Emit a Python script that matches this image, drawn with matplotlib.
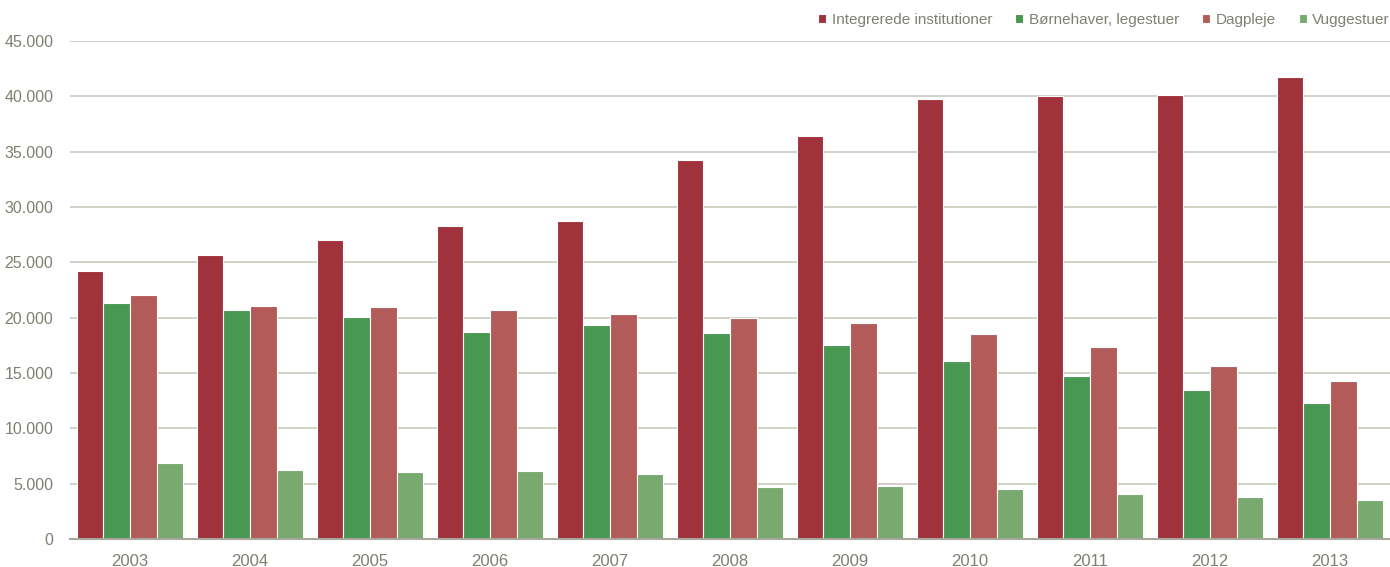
import matplotlib
matplotlib.use("Agg")
import matplotlib.pyplot as plt
import numpy as np
from matplotlib.ticker import FuncFormatter

plt.rcParams["font.family"] = ["Liberation Sans Narrow", "Liberation Sans", "DejaVu Sans"]

# ---data---
years = ["2003", "2004", "2005", "2006", "2007", "2008", "2009", "2010", "2011", "2012", "2013"]
integrerede = [24200, 25650, 27000, 28300, 28750, 34250, 36450, 39750, 40000, 40100, 41750]
boernehaver = [21300, 20700, 20050, 18700, 19350, 18600, 17500, 16050, 14700, 13450, 12300]
dagpleje = [22050, 21050, 20950, 20700, 20350, 19950, 19550, 18500, 17350, 15600, 14250]
vuggestuer = [6850, 6200, 6050, 6150, 5850, 4700, 4800, 4500, 4050, 3800, 3500]

series = [
    ("Integrerede institutioner", integrerede, "#A0323B"),
    ("Børnehaver, legestuer", boernehaver, "#489752"),
    ("Dagpleje", dagpleje, "#B35B59"),
    ("Vuggestuer", vuggestuer, "#78A96F"),
]

TXT = "#7F7F72"
GRID = "#C9C9BF"

fig = plt.figure(figsize=(13.9, 5.67), dpi=100)
ax = fig.add_axes([0.0504, 0.0494, 0.9496, 0.8783])

x = np.arange(len(years))
w = 0.222
for i, (name, vals, col) in enumerate(series):
    ax.bar(x + (i - 1.5) * w, vals, w, color=col, edgecolor="white",
           linewidth=0.8, label=name, zorder=3)

ax.set_xlim(-0.5, len(years) - 0.5)
ax.set_ylim(0, 45000)
ax.set_yticks(range(0, 45001, 5000))
ax.yaxis.set_major_formatter(FuncFormatter(lambda v, p: f"{int(v):,}".replace(",", ".")))
ax.set_xticks(x)
ax.set_xticklabels(years)
ax.grid(axis="y", color=GRID, linewidth=1.2, zorder=0)

for s in ["top", "right", "left"]:
    ax.spines[s].set_visible(False)
ax.spines["bottom"].set_color("#A8A89C")
ax.spines["bottom"].set_linewidth(1.5)
ax.spines["bottom"].set_zorder(4)

ax.tick_params(axis="both", length=0, colors=TXT)
ax.tick_params(axis="y", pad=12, labelsize=11.5)
ax.tick_params(axis="x", pad=11, labelsize=12)

leg = ax.legend(loc="center right", bbox_to_anchor=(1.0, 1.042), ncol=4, frameon=False,
                fontsize=11, handlelength=0.55, handleheight=0.55, handletextpad=0.35,
                columnspacing=1.5, borderaxespad=0, borderpad=0)
for t in leg.get_texts():
    t.set_color(TXT)

fig.savefig("out.png", dpi=100)
